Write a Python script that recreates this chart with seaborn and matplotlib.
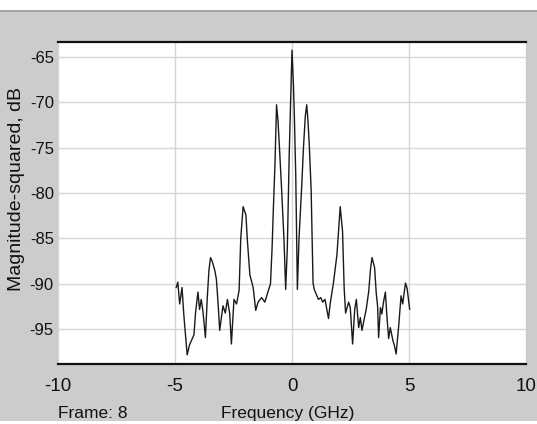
import matplotlib
matplotlib.use("Agg")
import matplotlib.pyplot as plt
from matplotlib.patches import Rectangle
from matplotlib.lines import Line2D
import seaborn as sns
import pandas as pd

# Spectrum of frame 8: frequency (GHz) and magnitude-squared (dB)
freq_ghz = [
    -4.95, -4.88, -4.80, -4.70, -4.62, -4.48, -4.38, -4.26, -4.19, -4.12,
    -4.02, -3.95, -3.88, -3.81, -3.70, -3.62, -3.55, -3.48, -3.40, -3.30,
    -3.23, -3.15, -3.09, -2.95, -2.85, -2.76, -2.66, -2.59, -2.48, -2.37,
    -2.26, -2.19, -2.09, -1.97, -1.91, -1.80, -1.66, -1.55, -1.45, -1.30,
    -1.16, -1.02, -0.92, -0.85, -0.80, -0.73, -0.66, -0.60, -0.54, -0.44,
    -0.34, -0.27, -0.20, -0.16, -0.12, -0.06, 0.00, 0.06, 0.10, 0.16,
    0.23, 0.30, 0.42, 0.49, 0.57, 0.63, 0.68, 0.74, 0.82, 0.86,
    0.90, 0.95, 1.13, 1.23, 1.31, 1.41, 1.56, 1.63, 1.77, 1.92,
    2.06, 2.16, 2.23, 2.29, 2.42, 2.49, 2.59, 2.68, 2.75, 2.85,
    2.92, 2.99, 3.06, 3.17, 3.28, 3.35, 3.42, 3.53, 3.60, 3.66,
    3.70, 3.78, 3.84, 3.91, 3.99, 4.06, 4.13, 4.20, 4.31, 4.38,
    4.45, 4.56, 4.66, 4.73, 4.85, 4.92, 5.03,
]
magnitude_db = [
    -90.4, -89.8, -92.2, -90.4, -93.5, -97.8, -96.7, -96.0, -95.6, -93.1,
    -90.9, -92.8, -91.7, -92.9, -95.9, -91.5, -88.5, -87.1, -87.6, -88.5,
    -89.5, -92.5, -95.1, -92.4, -93.2, -91.7, -93.3, -96.6, -91.7, -92.2,
    -90.7, -85.0, -81.5, -82.4, -85.1, -89.0, -90.4, -92.9, -92.0, -91.5,
    -92.0, -90.8, -90.0, -86.0, -82.0, -77.0, -70.3, -72.0, -74.8, -79.8,
    -85.3, -90.6, -86.0, -81.0, -75.9, -70.0, -64.3, -68.0, -71.5, -78.0,
    -90.6, -85.0, -79.0, -75.0, -71.5, -70.3, -72.0, -74.8, -79.8, -85.0,
    -89.9, -90.6, -91.7, -91.5, -92.0, -91.7, -93.8, -92.2, -89.9, -86.8,
    -81.5, -84.2, -90.5, -93.2, -92.0, -92.6, -96.6, -92.8, -91.7, -94.8,
    -93.7, -95.1, -94.2, -92.8, -90.8, -88.5, -87.1, -88.2, -91.0, -92.5,
    -95.9, -92.6, -93.3, -92.0, -90.9, -93.7, -96.0, -94.8, -96.2, -96.8,
    -97.7, -94.6, -91.3, -92.2, -89.9, -90.5, -92.8,
]
x_ticks = [-10, -5, 0, 5, 10]
y_ticks = [-65, -70, -75, -80, -85, -90, -95]
frame_label = "Frame: 8"
x_title = "Frequency (GHz)"
y_title = "Magnitude-squared, dB"

sns.set_style("white")
plt.rcParams["font.family"] = ["Liberation Sans", "DejaVu Sans"]
plt.rcParams["axes.unicode_minus"] = False

W, H, DPI = 537, 424, 100
fig = plt.figure(figsize=(W / DPI, H / DPI), dpi=DPI)
fig.patch.set_facecolor("#cccccc")

# axes box in pixel coordinates
left, right, top, bottom = 58, 526, 42, 364
ax = fig.add_axes([left / W, 1 - bottom / H, (right - left) / W, (bottom - top) / H])
ax.set_facecolor("white")

df = pd.DataFrame({"freq": freq_ghz, "mag": magnitude_db})
sns.lineplot(data=df, x="freq", y="mag", ax=ax, color="#1a1a1a", linewidth=1.0,
             estimator=None, sort=False, zorder=3)

ax.set_xlim(-10, 10)
ax.set_ylim(-98.8, -63.4)
ax.set_xticks(x_ticks)
ax.set_yticks(y_ticks)
ax.set_xticklabels([str(t) for t in x_ticks], fontsize=13.5)
ax.set_yticklabels([str(t) for t in y_ticks], fontsize=12)
ax.tick_params(axis="x", length=0, pad=10, colors="#111111")
ax.tick_params(axis="y", length=0, pad=3, colors="#111111")
ax.grid(True, color="#d6d6d6", linewidth=1.0, zorder=0)
ax.set_axisbelow(True)
ax.set_xlabel("")
ax.set_ylabel("")

for side in ("left", "right"):
    ax.spines[side].set_visible(False)
for side in ("top", "bottom"):
    ax.spines[side].set_color("#111111")
    ax.spines[side].set_linewidth(1.6)

# window chrome: white strip and separator line along the top
fig.add_artist(Rectangle((0, 1 - 10 / H), 1, 10 / H, transform=fig.transFigure,
                         facecolor="white", edgecolor="none", zorder=5))
fig.add_artist(Line2D([0, 1], [1 - 10.5 / H, 1 - 10.5 / H], transform=fig.transFigure,
                      color="#a0a0a0", linewidth=1.2, zorder=6))

fig.text(17 / W, 1 - 189 / H, y_title, rotation=90, ha="center", va="center",
         fontsize=14, color="#111111")
fig.text(58 / W, 1 - 406 / H, frame_label, ha="left", va="top", fontsize=12.5,
         color="#111111")
fig.text(288 / W, 1 - 406 / H, x_title, ha="center", va="top", fontsize=12.5,
         color="#111111")

# bottom white strip clipping the footer text
fig.add_artist(Rectangle((0, 0), 1, 3 / H, transform=fig.transFigure,
                         facecolor="white", edgecolor="none", zorder=10))

fig.savefig("out.png", dpi=DPI, facecolor=fig.get_facecolor())
